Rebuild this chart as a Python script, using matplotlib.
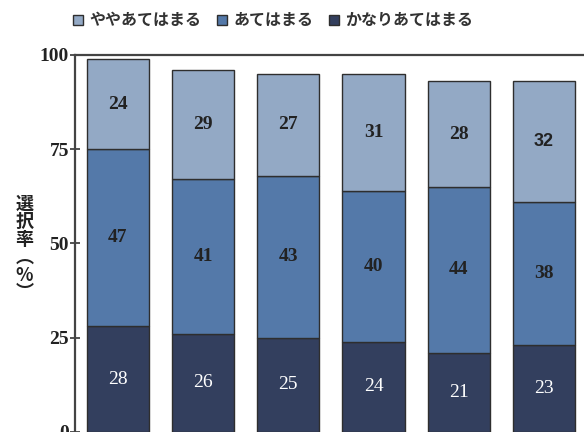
import matplotlib
matplotlib.use("Agg")
import matplotlib.pyplot as plt
import numpy as np

# Survey response shares (%) per group, stacked bottom to top
groups = ["1", "2", "3", "4", "5", "6"]
strongly_agree = [28, 26, 25, 24, 21, 23]   # かなりあてはまる
agree = [47, 41, 43, 40, 44, 38]            # あてはまる
somewhat_agree = [24, 29, 27, 31, 28, 32]   # ややあてはまる

series_names = ["ややあてはまる", "あてはまる", "かなりあてはまる"]
colors = {"light": "#93a9c5", "mid": "#5479a9", "dark": "#333f5e"}

yticks = [0, 25, 50, 75, 100]

fig = plt.figure(figsize=(5.84, 4.32), dpi=100)
ax = fig.add_axes([0.129, 0.0, 0.8753, 0.8727])

x = np.arange(len(groups))
width = 0.73
edge = dict(edgecolor="#2e2e2e", linewidth=1.0)

b1 = ax.bar(x, strongly_agree, width, color=colors["dark"], **edge,
            label=series_names[2])
bottom2 = np.array(strongly_agree)
b2 = ax.bar(x, agree, width, bottom=bottom2, color=colors["mid"], **edge,
            label=series_names[1])
bottom3 = bottom2 + np.array(agree)
b3 = ax.bar(x, somewhat_agree, width, bottom=bottom3, color=colors["light"], **edge,
            label=series_names[0])

serif = ["Liberation Serif", "DejaVu Serif"]
sans = ["Liberation Sans", "DejaVu Sans"]
for i in range(len(groups)):
    ax.text(x[i], strongly_agree[i] / 2, str(strongly_agree[i]),
            ha="center", va="center", color="white", fontsize=14, family=serif)
    ax.text(x[i], bottom2[i] + agree[i] / 2, str(agree[i]),
            ha="center", va="center", color="#222222", fontsize=14,
            fontweight="bold", family=serif)
    if i == len(groups) - 1:
        ax.text(x[i], bottom3[i] + somewhat_agree[i] / 2, str(somewhat_agree[i]),
                ha="center", va="center", color="#222222", fontsize=13,
                fontweight="bold", family=sans)
    else:
        ax.text(x[i], bottom3[i] + somewhat_agree[i] / 2, str(somewhat_agree[i]),
                ha="center", va="center", color="#222222", fontsize=14,
                fontweight="bold", family=serif)

ax.set_xlim(-0.5, len(groups) - 0.5)
ax.set_ylim(0, 100)
ax.set_yticks(yticks)
ax.set_yticklabels([str(v) for v in yticks], family=serif, fontsize=14,
                   fontweight="bold", color="#222222")
ax.set_xticks([])
ax.tick_params(axis="y", direction="inout", length=7, width=1.2, color="#333333", pad=1)

for side in ["left", "top"]:
    ax.spines[side].set_linewidth(1.6)
    ax.spines[side].set_color("#444444")
ax.spines["bottom"].set_visible(False)
ax.spines["right"].set_visible(False)

fig.text(0.042, 0.425, "選\n択\n率\n︵\n%\n︶", ha="center", va="center",
         fontsize=13, fontweight="bold", linespacing=0.92,
         family=["Noto Sans CJK JP", "DejaVu Sans"], color="#222222")

handles = [b3, b2, b1]
leg = fig.legend(handles, series_names, loc="center", bbox_to_anchor=(0.468, 0.953),
                 ncol=3, frameon=False, handlelength=0.6, handleheight=0.6,
                 handletextpad=0.4, columnspacing=1.0,
                 prop={"family": ["Noto Sans CJK JP", "DejaVu Sans"], "size": 11.5,
                       "weight": "bold"})
for t in leg.get_texts():
    t.set_color("#333333")

fig.savefig("out.png", dpi=100)
